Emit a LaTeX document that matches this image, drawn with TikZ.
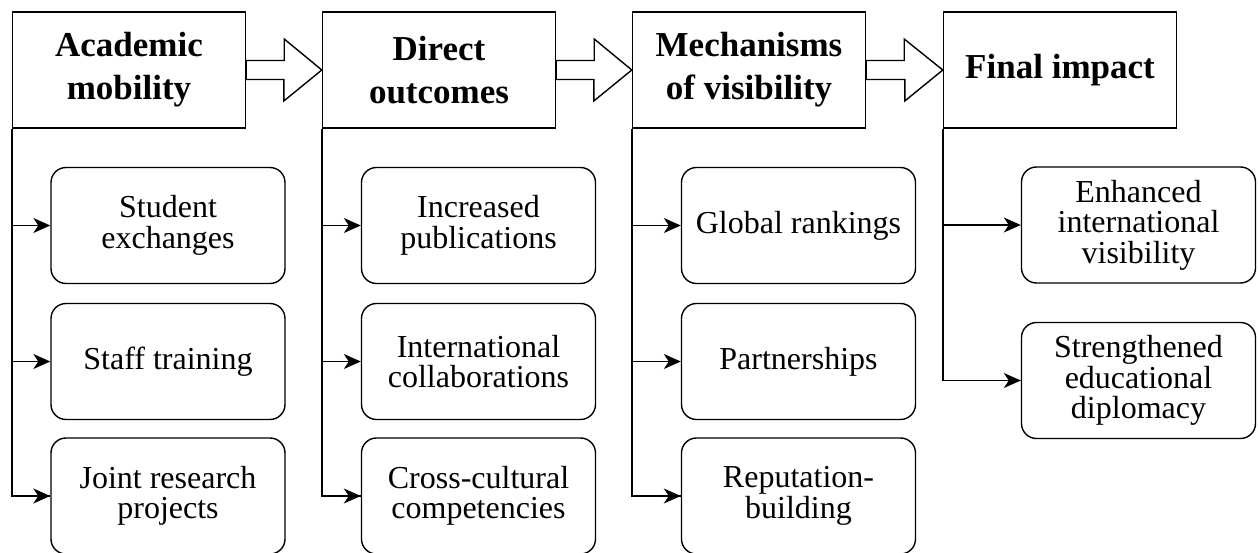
\documentclass[tikz,border=0pt]{standalone}
\usepackage{fontspec}
\setmainfont{Liberation Serif}
\usepackage{tikz}
\usetikzlibrary{
    arrows.meta,
    positioning
}
\tikzstyle{headbox} = [
    rectangle, draw,
    minimum width=233pt,
    minimum height=116pt,
    inner sep=0pt,
    text centered,
    align=center,
    draw=black,
    fill=white,
    font=\fontsize{35}{43}\selectfont\bfseries
]
\tikzstyle{itembox} = [
    rectangle, draw,
    rounded corners=15pt,
    minimum width=234pt,
    minimum height=116pt,
    inner sep=0pt,
    text centered,
    align=center,
    draw=black,
    fill=white,
    font=\fontsize{32}{30.5}\selectfont
]
\tikzstyle{arrow} = [
    -{Stealth[length=17pt,width=15pt,inset=5pt]}
]
\tikzstyle{hollow} = [
    fill=white,
    line join=miter
]

\begin{document}
\begin{tikzpicture}[
        x=1pt, y=1pt, line width=1.4pt
    ]
    \useasboundingbox (0,0) rectangle (1258,-553);

    % stage headers
    \node[headbox] (acad) at (129,-70)    {Academic\\mobility};
    \node[headbox] (direct) at (439,-70)  {Direct\\outcomes};
    \node[headbox] (mech) at (749,-70)    {Mechanisms\\of visibility};
    \node[headbox] (final) at (1060,-70)  {Final impact};

    % items
    \node[itembox] (stud) at (168,-225.5)    {Student\\exchanges};
    \node[itembox] (staff) at (168,-361.5)   {Staff training};
    \node[itembox] (joint) at (168,-496)     {Joint research\\projects};

    \node[itembox] (publ) at (478.5,-225.5)  {Increased\\publications};
    \node[itembox] (collab) at (478.5,-361.5) {International\\collaborations};
    \node[itembox] (cross) at (478.5,-496)   {Cross-cultural\\competencies};

    \node[itembox] (rank) at (798.5,-225.5)  {Global rankings};
    \node[itembox] (partn) at (798.5,-361.5) {Partnerships};
    \node[itembox] (reput) at (798.5,-496)   {Reputation-\\building};

    \node[itembox] (enh) at (1138.5,-225)    {Enhanced\\international\\visibility};
    \node[itembox] (dipl) at (1138.5,-380.5) {Strengthened\\educational\\diplomacy};

    % hollow arrows between stages
    \foreach \a/\b in {acad/direct, direct/mech, mech/final}
        \draw[hollow] ([yshift=9.5pt]\a.east) -- ++(38,0) -- ++(0,21.5)
            -- (\b.west) -- ([xshift=-38pt,yshift=-31pt]\b.west) -- ++(0,21.5)
            -- ([yshift=-9.5pt]\a.east) -- cycle;

    % branches
    \draw (acad.south west) |- (joint.west);
    \draw (direct.south west) |- (cross.west);
    \draw (mech.south west) |- (reput.west);
    \draw (final.south west) |- (dipl.west);
    \foreach \h/\c in {acad/stud, acad/staff, acad/joint,
                       direct/publ, direct/collab, direct/cross,
                       mech/rank, mech/partn, mech/reput,
                       final/enh, final/dipl}
        \draw[arrow] (\h.south west |- \c.west) -- (\c.west);
\end{tikzpicture}
\end{document}
